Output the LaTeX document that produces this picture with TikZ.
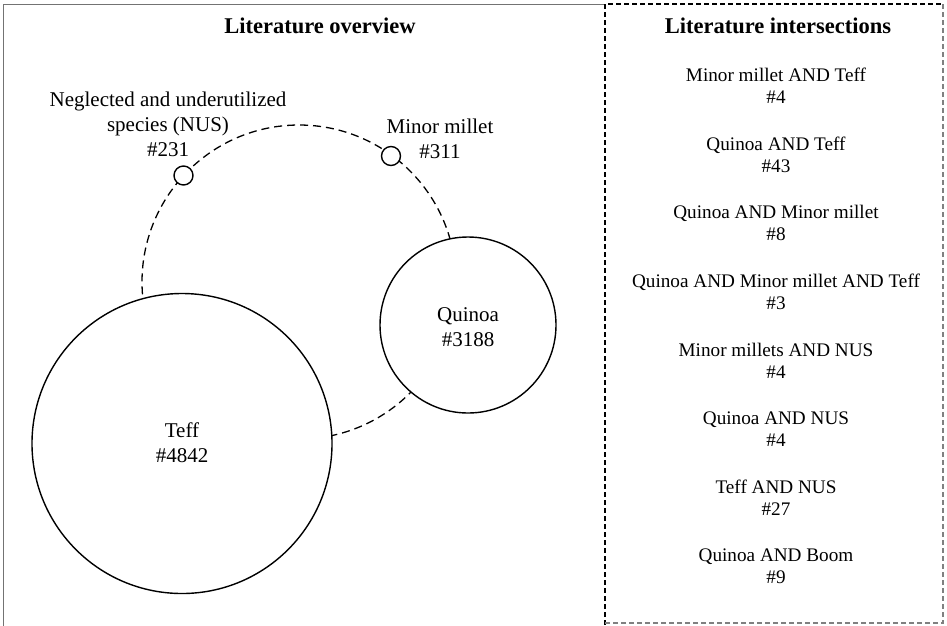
\documentclass[tikz,border=0pt]{standalone}
\usepackage{fontspec}
\setmainfont{Liberation Serif}
\tikzset{
  lbl/.style={align=center, inner sep=0pt, font=\fontsize{21}{25}\selectfont},
  item/.style={align=center, inner sep=0pt, font=\fontsize{19.2}{22}\selectfont},
  ttl/.style={inner sep=0pt, font=\fontsize{22.5}{26}\selectfont\bfseries},
  bigcirc/.style={circle, draw=black, fill=white, line width=1.4pt, inner sep=0pt},
  smallcirc/.style={circle, draw=black, fill=white, line width=1.4pt, inner sep=0pt, minimum size=19pt},
  dashring/.style={draw=black, line width=1.3pt, dash pattern=on 8pt off 5pt},
  boxline/.style={draw=black!55, line width=0.9pt},
  dashbox/.style={line width=1.1pt, dash pattern=on 5pt off 3pt}
}
\begin{document}
\begin{tikzpicture}[x=1pt,y=-1pt]
\useasboundingbox (0,0) rectangle (947,625);
% frames
\draw[boxline] (3,630) -- (3,4) -- (605,4);
\draw[dashbox, draw=black] (605,625) -- (605,4) -- (943,4);
\draw[dashbox, draw=black!50] (943,4) -- (943,623) -- (605,623);
% titles
\node[ttl] (t1) at (320,26) {Literature overview};
\node[ttl] (t2) at (778,26) {Literature intersections};
% dashed ring
\coordinate (rc) at (299,282);
\draw[dashring] (rc) circle[radius=157];
% circles
\node[bigcirc, minimum size=300pt] (teff) at (182,443.5) {};
\node[bigcirc, minimum size=176pt] (quinoa) at (468,325) {};
\node[smallcirc] (nus) at (183.5,175.5) {};
\node[smallcirc] (mm) at (391,156) {};
% labels
\node[lbl] (teffl) at (182,443) {Teff\\\#4842};
\node[lbl] (quinoal) at (468,327) {Quinoa\\\#3188};
\node[lbl] (nusl) at (168,124) {Neglected and underutilized\\species (NUS)\\\#231};
\node[lbl] (mml) at (440,139) {Minor millet\\\#311};
% intersections
\node[item] (i1) at (776,86) {Minor millet AND Teff\\\#4};
\node[item] (i2) at (776,154.6) {Quinoa AND Teff\\\#43};
\node[item] (i3) at (776,223.2) {Quinoa AND Minor millet\\\#8};
\node[item] (i4) at (776,291.8) {Quinoa AND Minor millet AND Teff\\\#3};
\node[item] (i5) at (776,360.4) {Minor millets AND NUS\\\#4};
\node[item] (i6) at (776,429) {Quinoa AND NUS\\\#4};
\node[item] (i7) at (776,497.6) {Teff AND NUS\\\#27};
\node[item] (i8) at (776,566.2) {Quinoa AND Boom\\\#9};
\end{tikzpicture}
\end{document}
